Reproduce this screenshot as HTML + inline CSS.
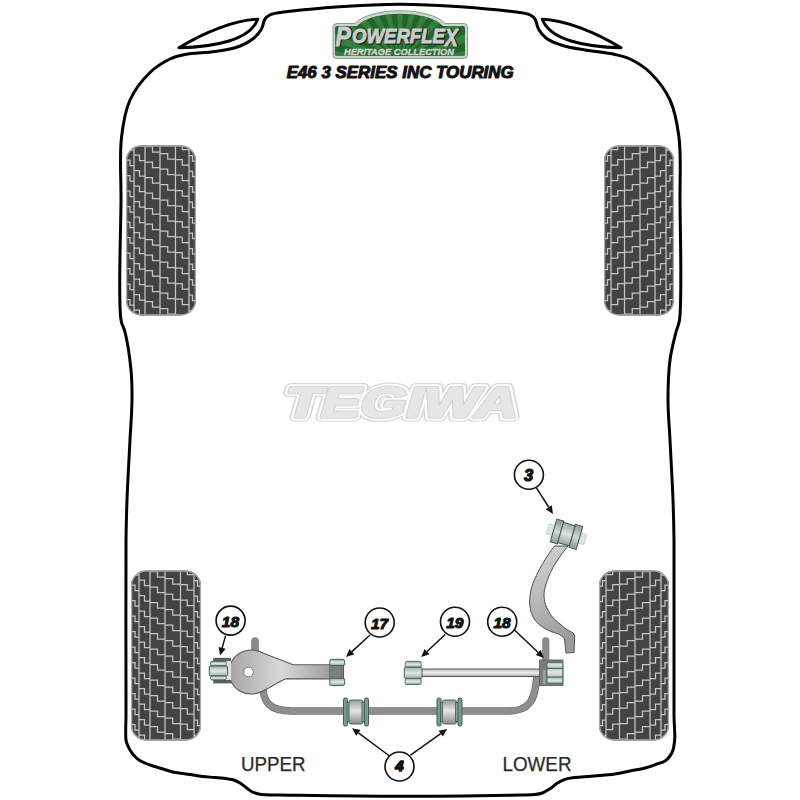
<!DOCTYPE html>
<html><head><meta charset="utf-8"><style>
html,body{margin:0;padding:0;background:#fff;width:800px;height:800px;overflow:hidden}
svg{display:block}
</style></head><body>
<svg width="800" height="800" viewBox="0 0 800 800">
<defs>
  <clipPath id="tireclip"><rect x="1" y="1" width="68" height="168" rx="14" ry="14"/></clipPath>
  <linearGradient id="gbar" x1="0" y1="0" x2="0" y2="1">
    <stop offset="0" stop-color="#8fae9f"/><stop offset="0.5" stop-color="#e2e8e4"/><stop offset="1" stop-color="#8fae9f"/>
  </linearGradient>
  <linearGradient id="arm" x1="0" y1="0" x2="1" y2="0">
    <stop offset="0" stop-color="#a8a8a8"/><stop offset="0.6" stop-color="#d6d6d6"/><stop offset="1" stop-color="#9a9a9a"/>
  </linearGradient>
  <linearGradient id="arm2" x1="0" y1="0" x2="1" y2="0">
    <stop offset="0" stop-color="#9c9c9c"/><stop offset="0.5" stop-color="#cfcfcf"/><stop offset="1" stop-color="#9a9a9a"/>
  </linearGradient>
  <linearGradient id="armg" gradientUnits="userSpaceOnUse" x1="229" y1="0" x2="344" y2="0">
    <stop offset="0" stop-color="#a4a4a4"/><stop offset="0.45" stop-color="#d8d8d8"/><stop offset="1" stop-color="#8f8f8f"/>
  </linearGradient>
  <linearGradient id="gbar2" x1="0" y1="0" x2="0" y2="1">
    <stop offset="0" stop-color="#c9d6cf"/><stop offset="0.5" stop-color="#e8ece9"/><stop offset="1" stop-color="#9fb5aa"/>
  </linearGradient>
  <linearGradient id="gray4" x1="0" y1="0" x2="0" y2="1">
    <stop offset="0" stop-color="#9a9a9a"/><stop offset="0.45" stop-color="#e6e6e6"/><stop offset="1" stop-color="#8a8a8a"/>
  </linearGradient>
  <linearGradient id="b18" x1="0" y1="0" x2="0" y2="1">
    <stop offset="0" stop-color="#9fbcae"/><stop offset="0.12" stop-color="#dbe8e1"/><stop offset="0.28" stop-color="#9fbcae"/>
    <stop offset="0.3" stop-color="#cfcfcf"/><stop offset="0.5" stop-color="#e4e4e4"/><stop offset="0.7" stop-color="#bdbdbd"/>
    <stop offset="0.72" stop-color="#9fbcae"/><stop offset="0.86" stop-color="#dbe8e1"/><stop offset="1" stop-color="#9fbcae"/>
  </linearGradient>
  <linearGradient id="g3" x1="0" y1="0" x2="0" y2="1">
    <stop offset="0" stop-color="#869a90"/><stop offset="0.5" stop-color="#d2d9d5"/><stop offset="1" stop-color="#8a9e94"/>
  </linearGradient>
  <linearGradient id="g3m" x1="0" y1="0" x2="0" y2="1">
    <stop offset="0" stop-color="#9aa9a1"/><stop offset="0.5" stop-color="#e0e4e2"/><stop offset="1" stop-color="#97a79f"/>
  </linearGradient>
  <linearGradient id="band" x1="0" y1="0" x2="0" y2="1">
    <stop offset="0" stop-color="#8ea498"/><stop offset="0.5" stop-color="#e3eae6"/><stop offset="1" stop-color="#8ea498"/>
  </linearGradient>
  <linearGradient id="midband" x1="0" y1="0" x2="0" y2="1">
    <stop offset="0" stop-color="#a2b3aa"/><stop offset="0.5" stop-color="#e0e5e2"/><stop offset="1" stop-color="#a2b3aa"/>
  </linearGradient>
  <linearGradient id="arm3" x1="0" y1="0" x2="0.25" y2="1">
    <stop offset="0" stop-color="#d6d6d6"/><stop offset="0.45" stop-color="#bcbcbc"/><stop offset="1" stop-color="#9c9c9c"/>
  </linearGradient>
  <linearGradient id="rod" x1="0" y1="0" x2="0" y2="1">
    <stop offset="0" stop-color="#bbb"/><stop offset="0.5" stop-color="#eee"/><stop offset="1" stop-color="#aaa"/>
  </linearGradient>
  <linearGradient id="green" x1="0" y1="0" x2="0" y2="1">
    <stop offset="0" stop-color="#2f7a3c"/><stop offset="1" stop-color="#236b30"/>
  </linearGradient>
</defs>
<path d="M400.00,4.20 C436.67,4.20 488.31,8.77 510.00,11.30 C519.19,12.37 525.21,12.76 529.50,14.60 C531.96,15.66 533.30,16.61 534.70,18.50 C536.54,20.98 536.65,25.78 538.50,29.00 C540.39,32.30 542.64,35.44 546.00,38.00 C550.17,41.18 556.45,43.55 562.50,45.50 C569.31,47.70 576.94,48.59 585.00,50.00 C594.26,51.62 606.77,52.66 615.00,54.50 C620.91,55.82 624.83,56.55 630.00,59.00 C636.41,62.04 643.81,66.53 650.00,72.50 C657.34,79.59 665.20,89.59 670.00,100.00 C675.11,111.09 677.20,123.30 679.00,137.50 C681.29,155.58 679.86,175.80 680.00,200.00 C680.20,233.53 682.27,300.87 679.50,320.00 C678.60,326.17 677.23,327.14 676.00,332.00 C674.14,339.36 671.34,349.78 670.00,360.00 C668.41,372.09 668.00,386.67 668.00,400.00 C668.00,413.33 669.27,425.32 670.00,440.00 C670.90,457.98 672.33,482.02 673.00,500.00 C673.55,514.68 673.77,521.96 674.00,540.00 C674.47,577.73 673.47,688.58 674.00,715.00 C674.15,722.74 674.46,725.94 674.60,730.00 C674.70,732.77 674.86,734.76 674.80,737.00 C674.74,739.08 674.58,740.93 674.30,743.00 C674.00,745.25 673.74,747.81 673.00,750.00 C672.29,752.13 671.31,754.19 670.00,756.00 C668.66,757.86 667.03,759.69 665.00,761.00 C662.77,762.44 659.95,762.96 657.00,764.00 C653.41,765.27 649.26,766.87 645.00,768.00 C640.31,769.24 635.00,770.00 630.00,771.00 C625.00,772.00 620.61,773.18 615.00,774.00 C607.96,775.03 598.19,775.63 591.00,776.25 C585.13,776.75 579.69,776.87 575.00,777.50 C571.26,778.00 568.04,778.40 565.00,779.40 C562.26,780.30 559.93,781.51 557.50,783.00 C554.92,784.59 552.56,787.05 550.00,788.75 C547.55,790.37 545.08,792.02 542.50,793.00 C540.07,793.92 538.25,794.22 535.00,794.60 C529.12,795.29 521.29,795.01 510.00,795.20 C486.33,795.60 436.67,796.30 400.00,796.30 C363.33,796.30 313.67,795.53 290.00,795.20 C278.71,795.04 270.55,795.13 265.00,794.75 C262.22,794.56 260.81,794.45 258.75,794.00 C256.64,793.54 254.53,793.00 252.50,792.00 C250.27,790.90 248.11,789.02 246.00,787.50 C243.95,786.02 242.09,784.27 240.00,783.00 C238.00,781.78 235.88,780.71 233.75,780.00 C231.71,779.32 229.95,779.12 227.50,778.75 C224.06,778.24 219.17,777.88 215.00,777.50 C210.84,777.13 206.66,776.98 202.50,776.50 C198.32,776.02 194.49,775.28 190.00,774.60 C184.77,773.80 177.89,773.10 173.00,772.00 C169.19,771.14 166.33,770.00 163.00,769.00 C159.67,768.00 156.13,767.06 153.00,766.00 C150.17,765.05 147.45,764.07 145.00,763.00 C142.83,762.05 140.87,761.28 139.00,760.00 C137.03,758.65 135.05,756.76 133.50,755.00 C132.10,753.41 131.02,751.70 130.00,750.00 C129.03,748.37 128.17,746.70 127.50,745.00 C126.85,743.36 126.32,741.98 126.00,740.00 C125.56,737.26 125.72,733.67 125.70,730.00 C125.68,725.51 125.92,722.74 126.00,715.00 C126.26,688.58 125.53,577.73 126.00,540.00 C126.23,521.96 126.45,514.68 127.00,500.00 C127.67,482.02 129.10,457.98 130.00,440.00 C130.73,425.32 131.90,412.38 132.00,400.00 C132.09,389.28 132.01,380.56 131.00,370.00 C129.86,358.05 127.21,341.05 125.00,332.00 C123.73,326.81 122.01,326.20 121.00,320.00 C117.90,300.90 120.87,233.53 121.00,200.00 C121.10,175.80 119.40,155.59 121.50,137.50 C123.15,123.31 124.97,111.08 130.00,100.00 C134.73,89.58 142.66,79.59 150.00,72.50 C156.19,66.53 163.59,62.04 170.00,59.00 C175.17,56.55 179.08,55.67 185.00,54.50 C193.22,52.87 205.75,52.88 215.00,51.50 C223.07,50.29 230.75,49.45 237.50,47.00 C243.61,44.78 249.80,41.45 254.00,38.00 C257.31,35.28 259.61,32.30 261.50,29.00 C263.35,25.78 263.46,20.98 265.30,18.50 C266.70,16.61 268.04,15.66 270.50,14.60 C274.79,12.76 280.81,12.37 290.00,11.30 C311.69,8.77 363.33,4.20 400.00,4.20 Z" fill="none" stroke="#000" stroke-width="3" stroke-linejoin="round"/>
<path d="M257.7,19.2 C235,20 205,32 179,47.7 C215,47 250,40 257.7,19.2 Z" fill="none" stroke="#000" stroke-width="3" stroke-linejoin="round"/>
<path d="M542.3,19.2 C565,20 595,32 621,47.7 C585,47 550,40 542.3,19.2 Z" fill="none" stroke="#000" stroke-width="3" stroke-linejoin="round"/>
<g transform="translate(126,145.5)">
  <rect x="0" y="0" width="70" height="170" rx="15" ry="15" fill="#434343"/>
  <path d="M8.00,0 V170 M19.00,0 V170 M34.00,0 V170 M49.50,0 V170 M63.00,0 V170 M0.00,-16.50 H4.00 V-11.00 H8.00 M0.00,-1.00 H4.00 V4.50 H8.00 M0.00,14.50 H4.00 V20.00 H8.00 M0.00,30.00 H4.00 V35.50 H8.00 M0.00,45.50 H4.00 V51.00 H8.00 M0.00,61.00 H4.00 V66.50 H8.00 M0.00,76.50 H4.00 V82.00 H8.00 M0.00,92.00 H4.00 V97.50 H8.00 M0.00,107.50 H4.00 V113.00 H8.00 M0.00,123.00 H4.00 V128.50 H8.00 M0.00,138.50 H4.00 V144.00 H8.00 M0.00,154.00 H4.00 V159.50 H8.00 M0.00,169.50 H4.00 V175.00 H8.00 M0.00,185.00 H4.00 V190.50 H8.00 M8.00,-6.00 H13.50 V-0.50 H19.00 M8.00,9.50 H13.50 V15.00 H19.00 M8.00,25.00 H13.50 V30.50 H19.00 M8.00,40.50 H13.50 V46.00 H19.00 M8.00,56.00 H13.50 V61.50 H19.00 M8.00,71.50 H13.50 V77.00 H19.00 M8.00,87.00 H13.50 V92.50 H19.00 M8.00,102.50 H13.50 V108.00 H19.00 M8.00,118.00 H13.50 V123.50 H19.00 M8.00,133.50 H13.50 V139.00 H19.00 M8.00,149.00 H13.50 V154.50 H19.00 M8.00,164.50 H13.50 V170.00 H19.00 M8.00,180.00 H13.50 V185.50 H19.00 M19.00,-14.50 H26.50 V-9.00 H34.00 M19.00,1.00 H26.50 V6.50 H34.00 M19.00,16.50 H26.50 V22.00 H34.00 M19.00,32.00 H26.50 V37.50 H34.00 M19.00,47.50 H26.50 V53.00 H34.00 M19.00,63.00 H26.50 V68.50 H34.00 M19.00,78.50 H26.50 V84.00 H34.00 M19.00,94.00 H26.50 V99.50 H34.00 M19.00,109.50 H26.50 V115.00 H34.00 M19.00,125.00 H26.50 V130.50 H34.00 M19.00,140.50 H26.50 V146.00 H34.00 M19.00,156.00 H26.50 V161.50 H34.00 M19.00,171.50 H26.50 V177.00 H34.00 M19.00,187.00 H26.50 V192.50 H34.00 M34.00,-7.50 H41.75 V-2.00 H49.50 M34.00,8.00 H41.75 V13.50 H49.50 M34.00,23.50 H41.75 V29.00 H49.50 M34.00,39.00 H41.75 V44.50 H49.50 M34.00,54.50 H41.75 V60.00 H49.50 M34.00,70.00 H41.75 V75.50 H49.50 M34.00,85.50 H41.75 V91.00 H49.50 M34.00,101.00 H41.75 V106.50 H49.50 M34.00,116.50 H41.75 V122.00 H49.50 M34.00,132.00 H41.75 V137.50 H49.50 M34.00,147.50 H41.75 V153.00 H49.50 M34.00,163.00 H41.75 V168.50 H49.50 M34.00,178.50 H41.75 V184.00 H49.50 M49.50,-17.00 H56.25 V-11.50 H63.00 M49.50,-1.50 H56.25 V4.00 H63.00 M49.50,14.00 H56.25 V19.50 H63.00 M49.50,29.50 H56.25 V35.00 H63.00 M49.50,45.00 H56.25 V50.50 H63.00 M49.50,60.50 H56.25 V66.00 H63.00 M49.50,76.00 H56.25 V81.50 H63.00 M49.50,91.50 H56.25 V97.00 H63.00 M49.50,107.00 H56.25 V112.50 H63.00 M49.50,122.50 H56.25 V128.00 H63.00 M49.50,138.00 H56.25 V143.50 H63.00 M49.50,153.50 H56.25 V159.00 H63.00 M49.50,169.00 H56.25 V174.50 H63.00 M49.50,184.50 H56.25 V190.00 H63.00 M63.00,-5.50 H66.50 V0.00 H70.00 M63.00,10.00 H66.50 V15.50 H70.00 M63.00,25.50 H66.50 V31.00 H70.00 M63.00,41.00 H66.50 V46.50 H70.00 M63.00,56.50 H66.50 V62.00 H70.00 M63.00,72.00 H66.50 V77.50 H70.00 M63.00,87.50 H66.50 V93.00 H70.00 M63.00,103.00 H66.50 V108.50 H70.00 M63.00,118.50 H66.50 V124.00 H70.00 M63.00,134.00 H66.50 V139.50 H70.00 M63.00,149.50 H66.50 V155.00 H70.00 M63.00,165.00 H66.50 V170.50 H70.00 M63.00,180.50 H66.50 V186.00 H70.00 " clip-path="url(#tireclip)" stroke="#c6c6c6" stroke-width="1.25" fill="none"/>
  <rect x="0.6" y="0.6" width="68.8" height="168.8" rx="14.5" ry="14.5" fill="none" stroke="#a8a8a8" stroke-width="1.3"/>
</g><g transform="translate(674,145.5) scale(-1,1)">
  <rect x="0" y="0" width="70" height="170" rx="15" ry="15" fill="#434343"/>
  <path d="M8.00,0 V170 M19.00,0 V170 M34.00,0 V170 M49.50,0 V170 M63.00,0 V170 M0.00,-16.50 H4.00 V-11.00 H8.00 M0.00,-1.00 H4.00 V4.50 H8.00 M0.00,14.50 H4.00 V20.00 H8.00 M0.00,30.00 H4.00 V35.50 H8.00 M0.00,45.50 H4.00 V51.00 H8.00 M0.00,61.00 H4.00 V66.50 H8.00 M0.00,76.50 H4.00 V82.00 H8.00 M0.00,92.00 H4.00 V97.50 H8.00 M0.00,107.50 H4.00 V113.00 H8.00 M0.00,123.00 H4.00 V128.50 H8.00 M0.00,138.50 H4.00 V144.00 H8.00 M0.00,154.00 H4.00 V159.50 H8.00 M0.00,169.50 H4.00 V175.00 H8.00 M0.00,185.00 H4.00 V190.50 H8.00 M8.00,-6.00 H13.50 V-0.50 H19.00 M8.00,9.50 H13.50 V15.00 H19.00 M8.00,25.00 H13.50 V30.50 H19.00 M8.00,40.50 H13.50 V46.00 H19.00 M8.00,56.00 H13.50 V61.50 H19.00 M8.00,71.50 H13.50 V77.00 H19.00 M8.00,87.00 H13.50 V92.50 H19.00 M8.00,102.50 H13.50 V108.00 H19.00 M8.00,118.00 H13.50 V123.50 H19.00 M8.00,133.50 H13.50 V139.00 H19.00 M8.00,149.00 H13.50 V154.50 H19.00 M8.00,164.50 H13.50 V170.00 H19.00 M8.00,180.00 H13.50 V185.50 H19.00 M19.00,-14.50 H26.50 V-9.00 H34.00 M19.00,1.00 H26.50 V6.50 H34.00 M19.00,16.50 H26.50 V22.00 H34.00 M19.00,32.00 H26.50 V37.50 H34.00 M19.00,47.50 H26.50 V53.00 H34.00 M19.00,63.00 H26.50 V68.50 H34.00 M19.00,78.50 H26.50 V84.00 H34.00 M19.00,94.00 H26.50 V99.50 H34.00 M19.00,109.50 H26.50 V115.00 H34.00 M19.00,125.00 H26.50 V130.50 H34.00 M19.00,140.50 H26.50 V146.00 H34.00 M19.00,156.00 H26.50 V161.50 H34.00 M19.00,171.50 H26.50 V177.00 H34.00 M19.00,187.00 H26.50 V192.50 H34.00 M34.00,-7.50 H41.75 V-2.00 H49.50 M34.00,8.00 H41.75 V13.50 H49.50 M34.00,23.50 H41.75 V29.00 H49.50 M34.00,39.00 H41.75 V44.50 H49.50 M34.00,54.50 H41.75 V60.00 H49.50 M34.00,70.00 H41.75 V75.50 H49.50 M34.00,85.50 H41.75 V91.00 H49.50 M34.00,101.00 H41.75 V106.50 H49.50 M34.00,116.50 H41.75 V122.00 H49.50 M34.00,132.00 H41.75 V137.50 H49.50 M34.00,147.50 H41.75 V153.00 H49.50 M34.00,163.00 H41.75 V168.50 H49.50 M34.00,178.50 H41.75 V184.00 H49.50 M49.50,-17.00 H56.25 V-11.50 H63.00 M49.50,-1.50 H56.25 V4.00 H63.00 M49.50,14.00 H56.25 V19.50 H63.00 M49.50,29.50 H56.25 V35.00 H63.00 M49.50,45.00 H56.25 V50.50 H63.00 M49.50,60.50 H56.25 V66.00 H63.00 M49.50,76.00 H56.25 V81.50 H63.00 M49.50,91.50 H56.25 V97.00 H63.00 M49.50,107.00 H56.25 V112.50 H63.00 M49.50,122.50 H56.25 V128.00 H63.00 M49.50,138.00 H56.25 V143.50 H63.00 M49.50,153.50 H56.25 V159.00 H63.00 M49.50,169.00 H56.25 V174.50 H63.00 M49.50,184.50 H56.25 V190.00 H63.00 M63.00,-5.50 H66.50 V0.00 H70.00 M63.00,10.00 H66.50 V15.50 H70.00 M63.00,25.50 H66.50 V31.00 H70.00 M63.00,41.00 H66.50 V46.50 H70.00 M63.00,56.50 H66.50 V62.00 H70.00 M63.00,72.00 H66.50 V77.50 H70.00 M63.00,87.50 H66.50 V93.00 H70.00 M63.00,103.00 H66.50 V108.50 H70.00 M63.00,118.50 H66.50 V124.00 H70.00 M63.00,134.00 H66.50 V139.50 H70.00 M63.00,149.50 H66.50 V155.00 H70.00 M63.00,165.00 H66.50 V170.50 H70.00 M63.00,180.50 H66.50 V186.00 H70.00 " clip-path="url(#tireclip)" stroke="#c6c6c6" stroke-width="1.25" fill="none"/>
  <rect x="0.6" y="0.6" width="68.8" height="168.8" rx="14.5" ry="14.5" fill="none" stroke="#a8a8a8" stroke-width="1.3"/>
</g><g transform="translate(131,570.5)">
  <rect x="0" y="0" width="70" height="170" rx="15" ry="15" fill="#434343"/>
  <path d="M8.00,0 V170 M19.00,0 V170 M34.00,0 V170 M49.50,0 V170 M63.00,0 V170 M0.00,-16.50 H4.00 V-11.00 H8.00 M0.00,-1.00 H4.00 V4.50 H8.00 M0.00,14.50 H4.00 V20.00 H8.00 M0.00,30.00 H4.00 V35.50 H8.00 M0.00,45.50 H4.00 V51.00 H8.00 M0.00,61.00 H4.00 V66.50 H8.00 M0.00,76.50 H4.00 V82.00 H8.00 M0.00,92.00 H4.00 V97.50 H8.00 M0.00,107.50 H4.00 V113.00 H8.00 M0.00,123.00 H4.00 V128.50 H8.00 M0.00,138.50 H4.00 V144.00 H8.00 M0.00,154.00 H4.00 V159.50 H8.00 M0.00,169.50 H4.00 V175.00 H8.00 M0.00,185.00 H4.00 V190.50 H8.00 M8.00,-6.00 H13.50 V-0.50 H19.00 M8.00,9.50 H13.50 V15.00 H19.00 M8.00,25.00 H13.50 V30.50 H19.00 M8.00,40.50 H13.50 V46.00 H19.00 M8.00,56.00 H13.50 V61.50 H19.00 M8.00,71.50 H13.50 V77.00 H19.00 M8.00,87.00 H13.50 V92.50 H19.00 M8.00,102.50 H13.50 V108.00 H19.00 M8.00,118.00 H13.50 V123.50 H19.00 M8.00,133.50 H13.50 V139.00 H19.00 M8.00,149.00 H13.50 V154.50 H19.00 M8.00,164.50 H13.50 V170.00 H19.00 M8.00,180.00 H13.50 V185.50 H19.00 M19.00,-14.50 H26.50 V-9.00 H34.00 M19.00,1.00 H26.50 V6.50 H34.00 M19.00,16.50 H26.50 V22.00 H34.00 M19.00,32.00 H26.50 V37.50 H34.00 M19.00,47.50 H26.50 V53.00 H34.00 M19.00,63.00 H26.50 V68.50 H34.00 M19.00,78.50 H26.50 V84.00 H34.00 M19.00,94.00 H26.50 V99.50 H34.00 M19.00,109.50 H26.50 V115.00 H34.00 M19.00,125.00 H26.50 V130.50 H34.00 M19.00,140.50 H26.50 V146.00 H34.00 M19.00,156.00 H26.50 V161.50 H34.00 M19.00,171.50 H26.50 V177.00 H34.00 M19.00,187.00 H26.50 V192.50 H34.00 M34.00,-7.50 H41.75 V-2.00 H49.50 M34.00,8.00 H41.75 V13.50 H49.50 M34.00,23.50 H41.75 V29.00 H49.50 M34.00,39.00 H41.75 V44.50 H49.50 M34.00,54.50 H41.75 V60.00 H49.50 M34.00,70.00 H41.75 V75.50 H49.50 M34.00,85.50 H41.75 V91.00 H49.50 M34.00,101.00 H41.75 V106.50 H49.50 M34.00,116.50 H41.75 V122.00 H49.50 M34.00,132.00 H41.75 V137.50 H49.50 M34.00,147.50 H41.75 V153.00 H49.50 M34.00,163.00 H41.75 V168.50 H49.50 M34.00,178.50 H41.75 V184.00 H49.50 M49.50,-17.00 H56.25 V-11.50 H63.00 M49.50,-1.50 H56.25 V4.00 H63.00 M49.50,14.00 H56.25 V19.50 H63.00 M49.50,29.50 H56.25 V35.00 H63.00 M49.50,45.00 H56.25 V50.50 H63.00 M49.50,60.50 H56.25 V66.00 H63.00 M49.50,76.00 H56.25 V81.50 H63.00 M49.50,91.50 H56.25 V97.00 H63.00 M49.50,107.00 H56.25 V112.50 H63.00 M49.50,122.50 H56.25 V128.00 H63.00 M49.50,138.00 H56.25 V143.50 H63.00 M49.50,153.50 H56.25 V159.00 H63.00 M49.50,169.00 H56.25 V174.50 H63.00 M49.50,184.50 H56.25 V190.00 H63.00 M63.00,-5.50 H66.50 V0.00 H70.00 M63.00,10.00 H66.50 V15.50 H70.00 M63.00,25.50 H66.50 V31.00 H70.00 M63.00,41.00 H66.50 V46.50 H70.00 M63.00,56.50 H66.50 V62.00 H70.00 M63.00,72.00 H66.50 V77.50 H70.00 M63.00,87.50 H66.50 V93.00 H70.00 M63.00,103.00 H66.50 V108.50 H70.00 M63.00,118.50 H66.50 V124.00 H70.00 M63.00,134.00 H66.50 V139.50 H70.00 M63.00,149.50 H66.50 V155.00 H70.00 M63.00,165.00 H66.50 V170.50 H70.00 M63.00,180.50 H66.50 V186.00 H70.00 " clip-path="url(#tireclip)" stroke="#c6c6c6" stroke-width="1.25" fill="none"/>
  <rect x="0.6" y="0.6" width="68.8" height="168.8" rx="14.5" ry="14.5" fill="none" stroke="#a8a8a8" stroke-width="1.3"/>
</g><g transform="translate(669,570.5) scale(-1,1)">
  <rect x="0" y="0" width="70" height="170" rx="15" ry="15" fill="#434343"/>
  <path d="M8.00,0 V170 M19.00,0 V170 M34.00,0 V170 M49.50,0 V170 M63.00,0 V170 M0.00,-16.50 H4.00 V-11.00 H8.00 M0.00,-1.00 H4.00 V4.50 H8.00 M0.00,14.50 H4.00 V20.00 H8.00 M0.00,30.00 H4.00 V35.50 H8.00 M0.00,45.50 H4.00 V51.00 H8.00 M0.00,61.00 H4.00 V66.50 H8.00 M0.00,76.50 H4.00 V82.00 H8.00 M0.00,92.00 H4.00 V97.50 H8.00 M0.00,107.50 H4.00 V113.00 H8.00 M0.00,123.00 H4.00 V128.50 H8.00 M0.00,138.50 H4.00 V144.00 H8.00 M0.00,154.00 H4.00 V159.50 H8.00 M0.00,169.50 H4.00 V175.00 H8.00 M0.00,185.00 H4.00 V190.50 H8.00 M8.00,-6.00 H13.50 V-0.50 H19.00 M8.00,9.50 H13.50 V15.00 H19.00 M8.00,25.00 H13.50 V30.50 H19.00 M8.00,40.50 H13.50 V46.00 H19.00 M8.00,56.00 H13.50 V61.50 H19.00 M8.00,71.50 H13.50 V77.00 H19.00 M8.00,87.00 H13.50 V92.50 H19.00 M8.00,102.50 H13.50 V108.00 H19.00 M8.00,118.00 H13.50 V123.50 H19.00 M8.00,133.50 H13.50 V139.00 H19.00 M8.00,149.00 H13.50 V154.50 H19.00 M8.00,164.50 H13.50 V170.00 H19.00 M8.00,180.00 H13.50 V185.50 H19.00 M19.00,-14.50 H26.50 V-9.00 H34.00 M19.00,1.00 H26.50 V6.50 H34.00 M19.00,16.50 H26.50 V22.00 H34.00 M19.00,32.00 H26.50 V37.50 H34.00 M19.00,47.50 H26.50 V53.00 H34.00 M19.00,63.00 H26.50 V68.50 H34.00 M19.00,78.50 H26.50 V84.00 H34.00 M19.00,94.00 H26.50 V99.50 H34.00 M19.00,109.50 H26.50 V115.00 H34.00 M19.00,125.00 H26.50 V130.50 H34.00 M19.00,140.50 H26.50 V146.00 H34.00 M19.00,156.00 H26.50 V161.50 H34.00 M19.00,171.50 H26.50 V177.00 H34.00 M19.00,187.00 H26.50 V192.50 H34.00 M34.00,-7.50 H41.75 V-2.00 H49.50 M34.00,8.00 H41.75 V13.50 H49.50 M34.00,23.50 H41.75 V29.00 H49.50 M34.00,39.00 H41.75 V44.50 H49.50 M34.00,54.50 H41.75 V60.00 H49.50 M34.00,70.00 H41.75 V75.50 H49.50 M34.00,85.50 H41.75 V91.00 H49.50 M34.00,101.00 H41.75 V106.50 H49.50 M34.00,116.50 H41.75 V122.00 H49.50 M34.00,132.00 H41.75 V137.50 H49.50 M34.00,147.50 H41.75 V153.00 H49.50 M34.00,163.00 H41.75 V168.50 H49.50 M34.00,178.50 H41.75 V184.00 H49.50 M49.50,-17.00 H56.25 V-11.50 H63.00 M49.50,-1.50 H56.25 V4.00 H63.00 M49.50,14.00 H56.25 V19.50 H63.00 M49.50,29.50 H56.25 V35.00 H63.00 M49.50,45.00 H56.25 V50.50 H63.00 M49.50,60.50 H56.25 V66.00 H63.00 M49.50,76.00 H56.25 V81.50 H63.00 M49.50,91.50 H56.25 V97.00 H63.00 M49.50,107.00 H56.25 V112.50 H63.00 M49.50,122.50 H56.25 V128.00 H63.00 M49.50,138.00 H56.25 V143.50 H63.00 M49.50,153.50 H56.25 V159.00 H63.00 M49.50,169.00 H56.25 V174.50 H63.00 M49.50,184.50 H56.25 V190.00 H63.00 M63.00,-5.50 H66.50 V0.00 H70.00 M63.00,10.00 H66.50 V15.50 H70.00 M63.00,25.50 H66.50 V31.00 H70.00 M63.00,41.00 H66.50 V46.50 H70.00 M63.00,56.50 H66.50 V62.00 H70.00 M63.00,72.00 H66.50 V77.50 H70.00 M63.00,87.50 H66.50 V93.00 H70.00 M63.00,103.00 H66.50 V108.50 H70.00 M63.00,118.50 H66.50 V124.00 H70.00 M63.00,134.00 H66.50 V139.50 H70.00 M63.00,149.50 H66.50 V155.00 H70.00 M63.00,165.00 H66.50 V170.50 H70.00 M63.00,180.50 H66.50 V186.00 H70.00 " clip-path="url(#tireclip)" stroke="#c6c6c6" stroke-width="1.25" fill="none"/>
  <rect x="0.6" y="0.6" width="68.8" height="168.8" rx="14.5" ry="14.5" fill="none" stroke="#a8a8a8" stroke-width="1.3"/>
</g>
<!-- logo -->
<g>
  <path d="M337,23.5 L355,23.5 C370,6.5 430,6.5 445,23.5 L464,23.5 Q467.5,23.5 467.5,27 L467.5,55 Q467.5,58.5 464,58.5 L336.5,58.5 Q333,58.5 333,55 L333,27 Q333,23.5 337,23.5 Z" fill="#c9d6ca" stroke="#6f8f72" stroke-width="0.8"/>
  <path id="lg" d="M338,26 L357,26 C372,9.5 428,9.5 443,26 L463,26 Q465,26 465,28 L465,54 Q465,56 463,56 L337,56 Q335,56 335,54 L335,28 Q335,26 338,26 Z" fill="#22652b"/>
  <clipPath id="lgc"><path d="M338,26 L357,26 C372,9.5 428,9.5 443,26 L463,26 Q465,26 465,28 L465,54 Q465,56 463,56 L337,56 Q335,56 335,54 L335,28 Q335,26 338,26 Z"/></clipPath>
  <g clip-path="url(#lgc)" fill="#3b8443" opacity="0.85">
    <path d="M400,62 L479.9,58.5 L478.9,48.8 Z"/><path d="M400,62 L476.7,39.3 L473.4,30.1 Z"/><path d="M400,62 L468.9,21.4 L463.5,13.3 Z"/><path d="M400,62 L457.1,5.9 L449.8,-0.6 Z"/><path d="M400,62 L441.8,-6.2 L433.2,-10.8 Z"/><path d="M400,62 L424.1,-14.3 L414.6,-16.7 Z"/><path d="M400,62 L404.9,-17.9 L395.1,-17.9 Z"/><path d="M400,62 L385.4,-16.7 L375.9,-14.3 Z"/><path d="M400,62 L366.8,-10.8 L358.2,-6.2 Z"/><path d="M400,62 L350.2,-0.6 L342.9,5.9 Z"/><path d="M400,62 L336.5,13.3 L331.1,21.4 Z"/><path d="M400,62 L326.6,30.1 L323.3,39.3 Z"/><path d="M400,62 L321.1,48.8 L320.1,58.5 Z"/>
  </g>
  <g font-family="Liberation Sans" font-weight="bold" font-style="italic" fill="#1e2a1e" stroke="#1e2a1e" stroke-width="1.6" stroke-linejoin="round" transform="translate(0.9,0.7)">
    <text x="335.5" y="45.6" font-size="27" transform="translate(335.5,45.6) scale(0.85,1) translate(-335.5,-45.6)">P</text>
    <text x="352" y="43" font-size="20.5" textLength="93" lengthAdjust="spacingAndGlyphs">OWERFLE</text>
    <text x="445" y="45.6" font-size="24" transform="translate(445,45.6) scale(0.8,1) translate(-445,-45.6)">X</text>
  </g>
  <g font-family="Liberation Sans" font-weight="bold" font-style="italic" fill="#cdcdcd" stroke="#cdcdcd" stroke-width="0.9" stroke-linejoin="round">
    <text x="335.5" y="45.6" font-size="27" transform="translate(335.5,45.6) scale(0.85,1) translate(-335.5,-45.6)">P</text>
    <text x="352" y="43" font-size="20.5" textLength="93" lengthAdjust="spacingAndGlyphs">OWERFLE</text>
    <text x="445" y="45.6" font-size="24" transform="translate(445,45.6) scale(0.8,1) translate(-445,-45.6)">X</text>
  </g>
  <text x="399" y="55" text-anchor="middle" font-family="Liberation Sans" font-weight="bold" font-style="italic" font-size="9.2" fill="#d4d4d4" stroke="#d4d4d4" stroke-width="0.35" textLength="110" lengthAdjust="spacingAndGlyphs">HERITAGE COLLECTION</text>
</g>
<text x="400.2" y="77.7" text-anchor="middle" font-family="Liberation Sans" font-weight="bold" font-style="italic" font-size="16.2" fill="#111" stroke="#111" stroke-width="1" stroke-linejoin="round" textLength="227" lengthAdjust="spacingAndGlyphs">E46 3 SERIES INC TOURING</text>
<!-- watermark -->
<g transform="translate(398.5,416.8) skewX(-16) scale(1,0.97)">
<text x="0" y="0" text-anchor="middle" font-family="Liberation Sans" font-weight="bold" font-size="44" fill="#d8d8d8" stroke="#d8d8d8" stroke-width="9.5" stroke-linejoin="round" textLength="233" lengthAdjust="spacingAndGlyphs">TEGIWA</text>
<text x="0" y="0" text-anchor="middle" font-family="Liberation Sans" font-weight="bold" font-size="44" fill="#fff" stroke="#fff" stroke-width="7" stroke-linejoin="round" textLength="233" lengthAdjust="spacingAndGlyphs">TEGIWA</text>
<text x="0" y="0" text-anchor="middle" font-family="Liberation Sans" font-weight="bold" font-size="44" fill="#d4d4d4" stroke="#d4d4d4" stroke-width="3.6" stroke-linejoin="round" textLength="233" lengthAdjust="spacingAndGlyphs">TEGIWA</text>
<text x="0" y="0" text-anchor="middle" font-family="Liberation Sans" font-weight="bold" font-size="44" fill="#e6e6e6" stroke="#e6e6e6" stroke-width="1.8" stroke-linejoin="round" textLength="233" lengthAdjust="spacingAndGlyphs">TEGIWA</text>
</g>

<!-- anti-roll bar -->
<path d="M262.5,683 C262.5,703 270,711 292,711 L508,711 C530,711 536,700 537,672" fill="none" stroke="#6e6e6e" stroke-width="7.4"/>
<path d="M262.5,683 C262.5,703 270,711 292,711 L508,711 C530,711 536,700 537,672" fill="none" stroke="#8e8e8e" stroke-width="6"/>
<g transform="translate(343.5,698)">
  <rect x="0" y="0" width="4" height="28" rx="1.5" fill="#7b9b8c" stroke="#3c5d50" stroke-width="1"/>
  <rect x="3.5" y="4.5" width="3" height="19" fill="#88a597" stroke="#3c5d50" stroke-width="0.8"/>
  <rect x="5.5" y="2" width="14" height="24" rx="2" fill="url(#gray4)" stroke="#4c6b5e" stroke-width="1"/>
  <rect x="18.5" y="4.5" width="3" height="19" fill="#88a597" stroke="#3c5d50" stroke-width="0.8"/>
  <rect x="21" y="0" width="4" height="28" rx="1.5" fill="#7b9b8c" stroke="#3c5d50" stroke-width="1"/>
</g><g transform="translate(437,698)">
  <rect x="0" y="0" width="4" height="28" rx="1.5" fill="#7b9b8c" stroke="#3c5d50" stroke-width="1"/>
  <rect x="3.5" y="4.5" width="3" height="19" fill="#88a597" stroke="#3c5d50" stroke-width="0.8"/>
  <rect x="5.5" y="2" width="14" height="24" rx="2" fill="url(#gray4)" stroke="#4c6b5e" stroke-width="1"/>
  <rect x="18.5" y="4.5" width="3" height="19" fill="#88a597" stroke="#3c5d50" stroke-width="0.8"/>
  <rect x="21" y="0" width="4" height="28" rx="1.5" fill="#7b9b8c" stroke="#3c5d50" stroke-width="1"/>
</g>
<!-- post left -->
<rect x="251.5" y="637.5" width="7" height="24" rx="3.5" fill="#8c8c8c" stroke="#777" stroke-width="0.6"/>
<!-- upper arm: outline layer then fill layer -->
<g stroke="#5a5a5a" stroke-width="2.2" fill="#5a5a5a">
  <circle cx="251" cy="672" r="21.5"/>
  <path d="M258.7,651.9 L293,665.3 L343,665.3 L343,678.3 L286,678.3 C276,682 268,689 260,691.5 Z"/>
</g>
<g fill="url(#armg)">
  <circle cx="251" cy="672" r="21.5"/>
  <path d="M258.7,651.9 L293,665.3 L343,665.3 L343,678.3 L286,678.3 C276,682 268,689 260,691.5 Z"/>
</g>
<circle cx="248.6" cy="672" r="4.8" fill="#fff" stroke="#6a6a6a" stroke-width="0.8"/>
<!-- bracket + bushing 18 left -->
<rect x="213.2" y="657.8" width="17.8" height="3.6" fill="#5f5f5f"/>
<rect x="213.2" y="679.8" width="17.8" height="3.6" fill="#5f5f5f"/>
<rect x="227" y="661" width="4" height="19" fill="#e2e2e2"/>
<rect x="210.60000000000002" y="661.3" width="15.699999999999983" height="4.7000000000000455" rx="1.5" fill="url(#band)" stroke="#3f5f52" stroke-width="0.9"/>
<rect x="210.60000000000002" y="675.8" width="15.699999999999983" height="4.2000000000000455" rx="1.5" fill="url(#band)" stroke="#3f5f52" stroke-width="0.9"/>
<rect x="209.3" y="666" width="18.299999999999983" height="9.799999999999955" rx="1" fill="url(#midband)" stroke="#3f5f52" stroke-width="1"/>
<!-- bushing 17 -->
<rect x="329.5" y="665" width="12.5" height="13.5" fill="#7e7e7e" stroke="#5a5a5a" stroke-width="0.6"/>
<rect x="329.8" y="659.3" width="14.8" height="6.3" rx="1.8" fill="url(#band)" stroke="#3f5f52" stroke-width="1"/>
<rect x="329.8" y="678.3" width="14.8" height="7.3" rx="1.8" fill="url(#band)" stroke="#3f5f52" stroke-width="1"/>
<!-- rod 19 -->
<rect x="420" y="669" width="122" height="7.5" fill="url(#rod)" stroke="#5a5a5a" stroke-width="1"/>
<rect x="405.2" y="661.4" width="15.899999999999988" height="5.899999999999977" rx="1.5" fill="url(#band)" stroke="#4d6358" stroke-width="0.9"/>
<rect x="405.2" y="678.3" width="15.899999999999988" height="6.2000000000000455" rx="1.5" fill="url(#band)" stroke="#4d6358" stroke-width="0.9"/>
<rect x="404.3" y="667.3" width="17.69999999999999" height="11.0" rx="1" fill="url(#midband)" stroke="#4d6358" stroke-width="1"/>
<!-- post right -->
<rect x="542.5" y="637.5" width="6.5" height="24" rx="3.2" fill="#8c8c8c" stroke="#777" stroke-width="0.6"/>
<!-- bracket + bushing 18 lower -->
<rect x="539.5" y="660" width="23.5" height="25.5" fill="#7c7c7c" stroke="#585858" stroke-width="0.8"/>
<rect x="543" y="670" width="2.5" height="14" fill="#a0a0a0"/>
<rect x="547" y="662.3" width="15.8" height="21" rx="1.5" fill="url(#b18)" stroke="#3f6b5a" stroke-width="0.9"/>
<line x1="547" y1="668.5" x2="562.8" y2="668.5" stroke="#3f6b5a" stroke-width="1.1"/>
<line x1="547" y1="677" x2="562.8" y2="677" stroke="#3f6b5a" stroke-width="1.1"/>
<!-- drop link arm -->
<path d="M554.5,546 C546,557 537,572 532,586 C528,600 529,612 535,620 C540,627 550,632 559,634 L564.5,638.5 L566,653 L574,652.5 L574.7,636 L573.2,633 C568,630 565,629 562,625.5 C556,621 551,617 548,610 C544,603 543,595 545,588 C548,575 556,560 568,546 Z" fill="url(#arm3)" stroke="#4f4f4f" stroke-width="1"/>
<!-- bushing 3 -->
<g transform="translate(566.5,534.2) rotate(16)">
  <rect x="-19.5" y="-5.2" width="7" height="10.4" fill="#e2e2e2" stroke="#c4c4c4" stroke-width="0.7"/>
  <rect x="12.5" y="-5.2" width="7" height="10.4" fill="#e2e2e2" stroke="#c4c4c4" stroke-width="0.7"/>
  <rect x="-13.5" y="-11.85" width="7.4" height="23.7" fill="url(#g3)" stroke="#3f5a50" stroke-width="1"/>
  <rect x="-6.1" y="-10.5" width="12.2" height="21" fill="url(#g3m)" stroke="#3f5a50" stroke-width="1"/>
  <rect x="6.1" y="-11.85" width="7.4" height="23.7" fill="url(#g3)" stroke="#3f5a50" stroke-width="1"/>
</g>

<circle cx="528.9" cy="474.8" r="14.5" fill="#fff" stroke="#111" stroke-width="1.6"/>
<text x="528.6999999999999" y="480.6" text-anchor="middle" font-family="Liberation Sans" font-weight="bold" font-style="italic" font-size="16.5" fill="#111" stroke="#111" stroke-width="1.2" stroke-linejoin="round">3</text><line x1="536.5" y1="487.8" x2="548.74" y2="507.23" stroke="#111" stroke-width="1.5"/>
<path d="M553,514 L545.69,509.15 L551.78,505.31 Z" fill="#111"/><circle cx="230.6" cy="620.6" r="14.5" fill="#fff" stroke="#111" stroke-width="1.6"/>
<text x="230.4" y="626.7" text-anchor="middle" font-family="Liberation Sans" font-weight="bold" font-style="italic" font-size="15.5" fill="#111" stroke="#111" stroke-width="1.1" stroke-linejoin="round">18</text><line x1="225.6" y1="635.6" x2="222.16" y2="647.90" stroke="#111" stroke-width="1.5"/>
<path d="M220,655.6 L218.69,646.93 L225.62,648.87 Z" fill="#111"/><circle cx="379.7" cy="622.5" r="14.5" fill="#fff" stroke="#111" stroke-width="1.6"/>
<text x="379.5" y="628.6" text-anchor="middle" font-family="Liberation Sans" font-weight="bold" font-style="italic" font-size="15.5" fill="#111" stroke="#111" stroke-width="1.1" stroke-linejoin="round">17</text><line x1="370" y1="635" x2="351.90" y2="651.59" stroke="#111" stroke-width="1.5"/>
<path d="M346,657 L349.46,648.94 L354.33,654.25 Z" fill="#111"/><circle cx="455" cy="621.7" r="14.5" fill="#fff" stroke="#111" stroke-width="1.6"/>
<text x="454.8" y="627.8000000000001" text-anchor="middle" font-family="Liberation Sans" font-weight="bold" font-style="italic" font-size="15.5" fill="#111" stroke="#111" stroke-width="1.1" stroke-linejoin="round">19</text><line x1="445.2" y1="634.5" x2="427.04" y2="651.53" stroke="#111" stroke-width="1.5"/>
<path d="M421.2,657 L424.57,648.90 L429.50,654.15 Z" fill="#111"/><circle cx="502.2" cy="621.7" r="14.5" fill="#fff" stroke="#111" stroke-width="1.6"/>
<text x="502.0" y="627.8000000000001" text-anchor="middle" font-family="Liberation Sans" font-weight="bold" font-style="italic" font-size="15.5" fill="#111" stroke="#111" stroke-width="1.1" stroke-linejoin="round">18</text><line x1="514.5" y1="630" x2="538.20" y2="652.49" stroke="#111" stroke-width="1.5"/>
<path d="M544,658 L535.72,655.10 L540.68,649.88 Z" fill="#111"/><circle cx="399.5" cy="766.5" r="14.5" fill="#fff" stroke="#111" stroke-width="1.6"/>
<text x="399.3" y="771.1" text-anchor="middle" font-family="Liberation Sans" font-weight="bold" font-style="italic" font-size="15" fill="#111" stroke="#111" stroke-width="1.5" stroke-linejoin="round">4</text><line x1="389.5" y1="756" x2="358.43" y2="732.96" stroke="#111" stroke-width="1.5"/>
<path d="M352,728.2 L360.57,730.07 L356.28,735.86 Z" fill="#111"/><line x1="410.5" y1="755.2" x2="440.69" y2="733.65" stroke="#111" stroke-width="1.5"/>
<path d="M447.2,729 L442.78,736.58 L438.60,730.72 Z" fill="#111"/>
<text x="241" y="770.6" font-family="Liberation Sans" font-size="19.6" fill="#2a2a2a" stroke="#2a2a2a" stroke-width="0.25" textLength="64.5" lengthAdjust="spacingAndGlyphs">UPPER</text>
<text x="502.5" y="770.9" font-family="Liberation Sans" font-size="19.6" fill="#2a2a2a" stroke="#2a2a2a" stroke-width="0.25" textLength="69" lengthAdjust="spacingAndGlyphs">LOWER</text>
</svg>
</body></html>
